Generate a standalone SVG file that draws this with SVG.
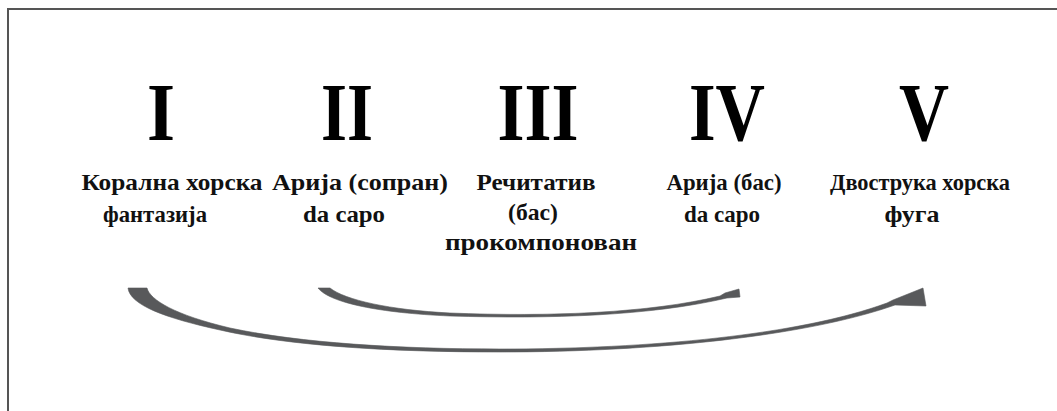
<svg xmlns="http://www.w3.org/2000/svg" width="1057" height="411" viewBox="0 0 1057 411">
<style>
.num{font-family:"Liberation Serif","Times New Roman",serif;font-weight:bold;font-size:82px;fill:#000;text-anchor:middle}
.lbl{font-family:"Liberation Serif","Times New Roman",serif;font-weight:bold;font-size:23.5px;fill:#111;text-anchor:middle}
.arc{fill:#58595b;stroke:#58595b;stroke-width:0.6;stroke-linejoin:round}
</style>
<rect width="1057" height="411" fill="#fff"/>
<path d="M8,411 V9 H1057" fill="none" stroke="#555" stroke-width="2"/>
<g id="node-1">
<text class="num" x="161" y="140" textLength="28" lengthAdjust="spacingAndGlyphs">I</text>
<text class="lbl" x="172" y="190" textLength="181" lengthAdjust="spacingAndGlyphs">Корална хорска</text>
<text class="lbl" x="155" y="222" textLength="104" lengthAdjust="spacingAndGlyphs">фантазија</text>
</g>
<g id="node-2">
<text class="num" x="347" y="140" textLength="52" lengthAdjust="spacingAndGlyphs">II</text>
<text class="lbl" x="360" y="190" textLength="176" lengthAdjust="spacingAndGlyphs">Арија (сопран)</text>
<text class="lbl" x="344" y="222" textLength="82" lengthAdjust="spacingAndGlyphs">da capo</text>
</g>
<g id="node-3">
<text class="num" x="538" y="140" textLength="81" lengthAdjust="spacingAndGlyphs">III</text>
<text class="lbl" x="536" y="190" textLength="119" lengthAdjust="spacingAndGlyphs">Речитатив</text>
<text class="lbl" x="533" y="220" textLength="50" lengthAdjust="spacingAndGlyphs">(бас)</text>
<text class="lbl" x="541" y="250" textLength="192" lengthAdjust="spacingAndGlyphs">прокомпонован</text>
</g>
<g id="node-4">
<text class="num" x="727" y="140" textLength="76" lengthAdjust="spacingAndGlyphs">IV</text>
<text class="lbl" x="724" y="190" textLength="115" lengthAdjust="spacingAndGlyphs">Арија (бас)</text>
<text class="lbl" x="722" y="222" textLength="76" lengthAdjust="spacingAndGlyphs">da capo</text>
</g>
<g id="node-5">
<text class="num" x="924" y="140" textLength="50" lengthAdjust="spacingAndGlyphs">V</text>
<text class="lbl" x="920" y="190" textLength="180" lengthAdjust="spacingAndGlyphs">Двострука хорска</text>
<text class="lbl" x="912" y="222" textLength="55" lengthAdjust="spacingAndGlyphs">фуга</text>
</g>
<g id="connectors">
<path class="arc" d="M128,288 L147,288 C150,300 175,315 230,328 C300,343 400,349 500,349 C650,349 800,335 887,303 L893,300 L923,288 L926,306 L895,305 C810,335 660,352 500,352 C390,352 290,346 220,330 C165,318 130,305 128,288 Z"/>
<path class="arc" d="M318,288 L330,288 C345,300 390,310 450,313 C550,317 650,313 720,296 L725,293 L739,289 L740,297 L727,298 C650,316 550,319 450,316 C380,313 330,303 318,288 Z"/>
</g>
</svg>
